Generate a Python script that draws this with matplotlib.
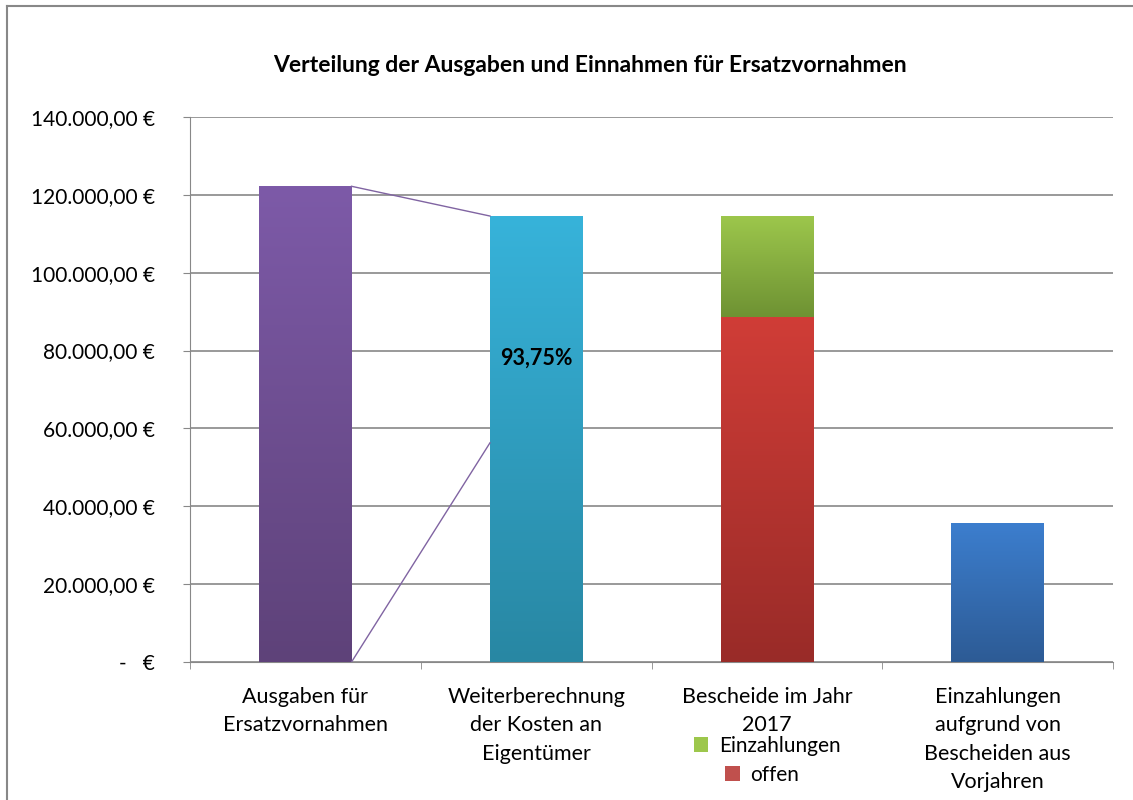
import matplotlib.pyplot as plt
import matplotlib.colors as mcolors
from matplotlib.lines import Line2D
from matplotlib.patches import Patch
import numpy as np

plt.rcParams['font.family'] = ['Lato', 'DejaVu Sans']

# data
categories = ["Ausgaben für\nErsatzvornahmen",
              "Weiterberechnung\nder Kosten an\nEigentümer",
              "Bescheide im Jahr\n2017",
              "Einzahlungen\naufgrund von\nBescheiden aus\nVorjahren"]
ausgaben = 122200
weiterberechnung = 114560
bescheide_offen = 88600
bescheide_einzahlungen = 25960
vorjahre = 35700
connector_end = 56300   # where the lower series line meets bar 2
title = "Verteilung der Ausgaben und Einnahmen für Ersatzvornahmen"
yticks = [0, 20000, 40000, 60000, 80000, 100000, 120000, 140000]

# gradient colours (top, bottom)
c_purple = ("#7D5AA8", "#5E4279")
c_cyan = ("#37B3DA", "#2887A3")
c_green = ("#9DC74C", "#6E9233")
c_red = ("#D03D37", "#992B28")
c_blue = ("#3C7ECE", "#2D5B95")


def fmt_eur(v):
    if v == 0:
        return "-   €"
    s = f"{v:,.2f}".replace(",", "X").replace(".", ",").replace("X", ".")
    return s + " €"


def gradient_bar(ax, bar, cols):
    x0, y0 = bar.get_x(), bar.get_y()
    w, h = bar.get_width(), bar.get_height()
    cmap = mcolors.LinearSegmentedColormap.from_list("g", [cols[1], cols[0]])
    grad = np.linspace(0, 1, 256).reshape(-1, 1)
    im = ax.imshow(grad, cmap=cmap, aspect="auto", origin="lower",
                   extent=[x0, x0 + w, y0, y0 + h], zorder=3)
    im.set_clip_path(bar)
    bar.set_facecolor("none")


fig = plt.figure(figsize=(11.33, 8), dpi=100)
ax = fig.add_axes([190 / 1133, 1 - 662 / 800, 923 / 1133, 545 / 800])

x = np.arange(len(categories))
w = 0.4
bars = []
bars.append(ax.bar(x[0], ausgaben, w, zorder=3, linewidth=0)[0])
bars.append(ax.bar(x[1], weiterberechnung, w, zorder=3, linewidth=0)[0])
b_offen = ax.bar(x[2], bescheide_offen, w, zorder=3, linewidth=0)[0]
b_einz = ax.bar(x[2], bescheide_einzahlungen, w, bottom=bescheide_offen,
                zorder=3, linewidth=0)[0]
b_vor = ax.bar(x[3], vorjahre, w, zorder=3, linewidth=0)[0]

for b, c in zip([bars[0], bars[1], b_offen, b_einz, b_vor],
                [c_purple, c_cyan, c_red, c_green, c_blue]):
    gradient_bar(ax, b, c)

# series lines between bar 1 and bar 2
ax.plot([x[0] + w / 2, x[1] - w / 2], [ausgaben, weiterberechnung],
        color="#8064A2", lw=1, zorder=4)
ax.plot([x[0] + w / 2, x[1] - w / 2], [0, connector_end],
        color="#8064A2", lw=1, zorder=4)

pct = weiterberechnung / ausgaben * 100
ax.text(x[1], 78000, f"{pct:.2f}%".replace(".", ","), ha="center", va="center",
        fontsize=15.5, fontweight="bold", zorder=5)

ax.set_xlim(-0.5, 3.5)
ax.set_ylim(0, 140000)
ax.set_yticks(yticks)
ax.set_yticklabels([fmt_eur(v) for v in yticks], fontsize=15)
ax.set_xticks(x)
ax.set_xticklabels(categories, fontsize=15.5, linespacing=1.52)
ax.set_xticks(np.arange(-0.5, 4, 1), minor=True)
ax.tick_params(axis="x", which="major", length=0, pad=18)
ax.tick_params(axis="x", which="minor", length=5, color="#888888")
ax.tick_params(axis="y", length=5, color="#888888", pad=20)
ax.grid(axis="y", color="#888888", lw=1.2, zorder=0)
for s in ["top", "right"]:
    ax.spines[s].set_visible(False)
for s in ["left", "bottom"]:
    ax.spines[s].set_color("#888888")

fig.text(590 / 1133, 1 - 66 / 800, title, ha="center", va="center",
         fontsize=16.5, fontweight="bold")

# legend rows, each centred under category 3
h_einz = Patch(facecolor=c_green[0], edgecolor="none")
h_offen = Patch(facecolor="#C0504D", edgecolor="none")
leg1 = fig.legend([h_einz], ["Einzahlungen"], loc="center",
                  bbox_to_anchor=(767 / 1133, 1 - 746 / 800), frameon=False,
                  fontsize=15, handlelength=0.7, handleheight=0.7,
                  handletextpad=0.5, borderpad=0)
leg2 = fig.legend([h_offen], ["offen"], loc="center",
                  bbox_to_anchor=(762 / 1133, 1 - 775 / 800), frameon=False,
                  fontsize=15, handlelength=0.7, handleheight=0.7,
                  handletextpad=0.5, borderpad=0)

# chart frame (top and left edges visible)
fig.add_artist(Line2D([7 / 1133, 1.0], [1 - 6 / 800, 1 - 6 / 800],
                      transform=fig.transFigure, color="#888888", lw=1.5))
fig.add_artist(Line2D([7 / 1133, 7 / 1133], [0, 1 - 6 / 800],
                      transform=fig.transFigure, color="#888888", lw=1.5))

fig.savefig("out.png", dpi=100)
